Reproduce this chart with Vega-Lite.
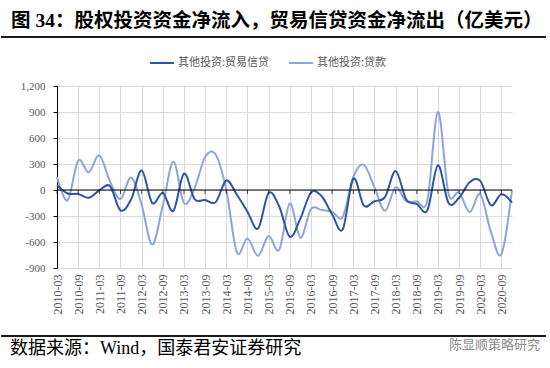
{
  "$schema": "https://vega.github.io/schema/vega-lite/v6.json",
  "padding": {"left": 0, "top": 10, "right": 2, "bottom": 2},
  "background": "white",
  "config": {"view": {"stroke": null}, "axisY": {"labelOverlap": false}, "locale": {"number": {"decimal": ".", "thousands": ",", "grouping": [3], "currency": ["$", ""], "minus": "-"}}},
  "title": {"text": "图 34：股权投资资金净流入，贸易信贷资金净流出（亿美元）", "anchor": "start", "orient": "top", "font": "Liberation Serif, Noto Sans CJK SC", "fontSize": 19.5, "fontWeight": "bold", "color": "#000000", "offset": 5, "dx": 11},
  "datasets": {
    "d": [
      {"q":"2010-03","s":"其他投资:贷款","v":150},{"q":"2010-06","s":"其他投资:贷款","v":-120},{"q":"2010-09","s":"其他投资:贷款","v":340},{"q":"2010-12","s":"其他投资:贷款","v":205},
      {"q":"2011-03","s":"其他投资:贷款","v":400},{"q":"2011-06","s":"其他投资:贷款","v":100},{"q":"2011-09","s":"其他投资:贷款","v":-105},{"q":"2011-12","s":"其他投资:贷款","v":145},
      {"q":"2012-03","s":"其他投资:贷款","v":-170},{"q":"2012-06","s":"其他投资:贷款","v":-630},{"q":"2012-09","s":"其他投资:贷款","v":-180},{"q":"2012-12","s":"其他投资:贷款","v":325},
      {"q":"2013-03","s":"其他投资:贷款","v":-150},{"q":"2013-06","s":"其他投资:贷款","v":20},{"q":"2013-09","s":"其他投资:贷款","v":380},{"q":"2013-12","s":"其他投资:贷款","v":410},
      {"q":"2014-03","s":"其他投资:贷款","v":0},{"q":"2014-06","s":"其他投资:贷款","v":-720},{"q":"2014-09","s":"其他投资:贷款","v":-560},{"q":"2014-12","s":"其他投资:贷款","v":-760},
      {"q":"2015-03","s":"其他投资:贷款","v":-530},{"q":"2015-06","s":"其他投资:贷款","v":-690},{"q":"2015-09","s":"其他投资:贷款","v":-155},{"q":"2015-12","s":"其他投资:贷款","v":-550},
      {"q":"2016-03","s":"其他投资:贷款","v":-220},{"q":"2016-06","s":"其他投资:贷款","v":-230},{"q":"2016-09","s":"其他投资:贷款","v":-250},{"q":"2016-12","s":"其他投资:贷款","v":-310},
      {"q":"2017-03","s":"其他投资:贷款","v":150},{"q":"2017-06","s":"其他投资:贷款","v":290},{"q":"2017-09","s":"其他投资:贷款","v":30},{"q":"2017-12","s":"其他投资:贷款","v":-240},
      {"q":"2018-03","s":"其他投资:贷款","v":30},{"q":"2018-06","s":"其他投资:贷款","v":-130},{"q":"2018-09","s":"其他投资:贷款","v":-130},{"q":"2018-12","s":"其他投资:贷款","v":-120},
      {"q":"2019-03","s":"其他投资:贷款","v":900},{"q":"2019-06","s":"其他投资:贷款","v":-40},{"q":"2019-09","s":"其他投资:贷款","v":-30},{"q":"2019-12","s":"其他投资:贷款","v":-255},
      {"q":"2020-03","s":"其他投资:贷款","v":-50},{"q":"2020-06","s":"其他投资:贷款","v":-480},{"q":"2020-09","s":"其他投资:贷款","v":-740},{"q":"2020-12","s":"其他投资:贷款","v":0},
      {"q":"2010-03","s":"其他投资:贸易信贷","v":55},{"q":"2010-06","s":"其他投资:贸易信贷","v":-40},{"q":"2010-09","s":"其他投资:贸易信贷","v":-45},{"q":"2010-12","s":"其他投资:贸易信贷","v":-90},
      {"q":"2011-03","s":"其他投资:贸易信贷","v":-5},{"q":"2011-06","s":"其他投资:贸易信贷","v":45},{"q":"2011-09","s":"其他投资:贸易信贷","v":-235},{"q":"2011-12","s":"其他投资:贸易信贷","v":-110},
      {"q":"2012-03","s":"其他投资:贸易信贷","v":225},{"q":"2012-06","s":"其他投资:贸易信贷","v":-150},{"q":"2012-09","s":"其他投资:贸易信贷","v":-35},{"q":"2012-12","s":"其他投资:贸易信贷","v":-240},
      {"q":"2013-03","s":"其他投资:贸易信贷","v":190},{"q":"2013-06","s":"其他投资:贸易信贷","v":-105},{"q":"2013-09","s":"其他投资:贸易信贷","v":-115},{"q":"2013-12","s":"其他投资:贸易信贷","v":-140},
      {"q":"2014-03","s":"其他投资:贸易信贷","v":110},{"q":"2014-06","s":"其他投资:贸易信贷","v":-55},{"q":"2014-09","s":"其他投资:贸易信贷","v":-250},{"q":"2014-12","s":"其他投资:贸易信贷","v":-445},
      {"q":"2015-03","s":"其他投资:贸易信贷","v":-35},{"q":"2015-06","s":"其他投资:贸易信贷","v":-190},{"q":"2015-09","s":"其他投资:贸易信贷","v":-540},{"q":"2015-12","s":"其他投资:贸易信贷","v":-330},
      {"q":"2016-03","s":"其他投资:贸易信贷","v":-30},{"q":"2016-06","s":"其他投资:贸易信贷","v":-70},{"q":"2016-09","s":"其他投资:贸易信贷","v":-280},{"q":"2016-12","s":"其他投资:贸易信贷","v":-455},
      {"q":"2017-03","s":"其他投资:贸易信贷","v":130},{"q":"2017-06","s":"其他投资:贸易信贷","v":-180},{"q":"2017-09","s":"其他投资:贸易信贷","v":-130},{"q":"2017-12","s":"其他投资:贸易信贷","v":-80},
      {"q":"2018-03","s":"其他投资:贸易信贷","v":220},{"q":"2018-06","s":"其他投资:贸易信贷","v":-110},{"q":"2018-09","s":"其他投资:贸易信贷","v":-160},{"q":"2018-12","s":"其他投资:贸易信贷","v":-235},
      {"q":"2019-03","s":"其他投资:贸易信贷","v":285},{"q":"2019-06","s":"其他投资:贸易信贷","v":-150},{"q":"2019-09","s":"其他投资:贸易信贷","v":-90},{"q":"2019-12","s":"其他投资:贸易信贷","v":90},
      {"q":"2020-03","s":"其他投资:贸易信贷","v":105},{"q":"2020-06","s":"其他投资:贸易信贷","v":-175},{"q":"2020-09","s":"其他投资:贸易信贷","v":-50},{"q":"2020-12","s":"其他投资:贸易信贷","v":-145}
    ]
  },
  "spacing": 21,
  "vconcat": [
    {
      "width": 455, "height": 22,
      "data": {"values": [{}]},
      "mark": {"type": "rule", "color": "#1A1A1A", "strokeWidth": 2},
      "encoding": {
        "x": {"datum": -56, "type": "quantitative", "scale": {"domain": [0, 455], "nice": false, "zero": false}, "axis": null},
        "x2": {"datum": 489},
        "y": {"datum": 1, "type": "quantitative", "scale": {"domain": [0, 1], "nice": false}, "axis": null}
      }
    },
    {
      "width": 455, "height": 182,
      "data": {"name": "d"},
      "layer": [
        {
          "mark": {"type": "line", "interpolate": "cardinal", "strokeWidth": 2},
          "encoding": {
            "x": {"field": "q", "type": "ordinal", "sort": null,
              "scale": {"type": "point", "padding": 0},
              "axis": {"title": null, "values": ["2010-03","2010-09","2011-03","2011-09","2012-03","2012-09","2013-03","2013-09","2014-03","2014-09","2015-03","2015-09","2016-03","2016-09","2017-03","2017-09","2018-03","2018-09","2019-03","2019-09","2020-03","2020-09"],
                "labelAngle": -90, "labelPadding": 6, "ticks": false, "domain": false, "grid": true, "gridColor": "#D9D9D9", "gridWidth": 1,
                "labelFont": "Liberation Serif", "labelFontSize": 12, "labelColor": "#595959"}},
            "y": {"field": "v", "type": "quantitative",
              "scale": {"domain": [-900, 1200], "nice": false},
              "axis": {"title": null, "values": [-900,-600,-300,0,300,600,900,1200], "tickCount": 20, "format": ",d", "labelOverlap": false,
                "domainColor": "#000000", "tickColor": "#000000", "tickSize": 4, "labelPadding": 8,
                "grid": true, "gridColor": "#D9D9D9", "gridWidth": 1,
                "labelFont": "Liberation Serif", "labelFontSize": 11, "labelColor": "#595959"}},
            "color": {"field": "s", "type": "nominal",
              "scale": {"domain": ["其他投资:贸易信贷", "其他投资:贷款"], "range": ["#2F55A2", "#8CA5DA"]},
              "legend": {"title": null, "orient": "none", "legendX": 92, "legendY": 13, "direction": "horizontal",
                "symbolType": "stroke", "symbolSize": 576, "symbolStrokeWidth": 2, "labelOffset": 3, "columnPadding": 15,
                "labelFont": "Noto Sans CJK SC", "labelFontSize": 11, "labelColor": "#595959"}}
          }
        },
        {
          "transform": [{"filter": {"field": "q", "equal": "2010-03"}}, {"filter": {"field": "s", "equal": "其他投资:贸易信贷"}}],
          "mark": {"type": "rule", "color": "#000000", "strokeWidth": 1},
          "encoding": {"y": {"datum": 0}}
        },
        {
          "transform": [{"filter": {"field": "s", "equal": "其他投资:贸易信贷"}}, {"filter": {"field": "q", "oneOf": ["2010-03","2010-09","2011-03","2011-09","2012-03","2012-09","2013-03","2013-09","2014-03","2014-09","2015-03","2015-09","2016-03","2016-09","2017-03","2017-09","2018-03","2018-09","2019-03","2019-09","2020-03","2020-09"]}}],
          "mark": {"type": "tick", "orient": "vertical", "color": "#000000", "size": 4, "thickness": 1, "yOffset": 2},
          "encoding": {"x": {"field": "q", "type": "ordinal", "sort": null}, "y": {"datum": 0}}
        }
      ]
    },
    {
      "vconcat": [
        {
          "width": 455, "height": 1,
          "data": {"values": [{}]},
          "mark": {"type": "rule", "color": "#1A1A1A", "strokeWidth": 2},
          "encoding": {
            "x": {"datum": -56, "type": "quantitative", "scale": {"domain": [0, 455], "nice": false, "zero": false}, "axis": null},
            "x2": {"datum": 489},
            "y": {"datum": 1, "type": "quantitative", "scale": {"domain": [0, 1], "nice": false}, "axis": null}
          },
          "title": {"text": "陈显顺策略研究", "orient": "bottom", "anchor": "end", "font": "Noto Sans CJK SC", "fontSize": 13, "fontWeight": "normal", "color": "#8C8C8C", "offset": 2, "dx": -7}
        }
      ],
      "title": {"text": "数据来源：Wind，国泰君安证券研究", "orient": "bottom", "anchor": "start", "font": "Liberation Serif, Noto Sans CJK SC", "fontSize": 18, "fontWeight": "normal", "color": "#000000", "offset": 0, "dy": -12, "dx": 10}
    }
  ]
}
